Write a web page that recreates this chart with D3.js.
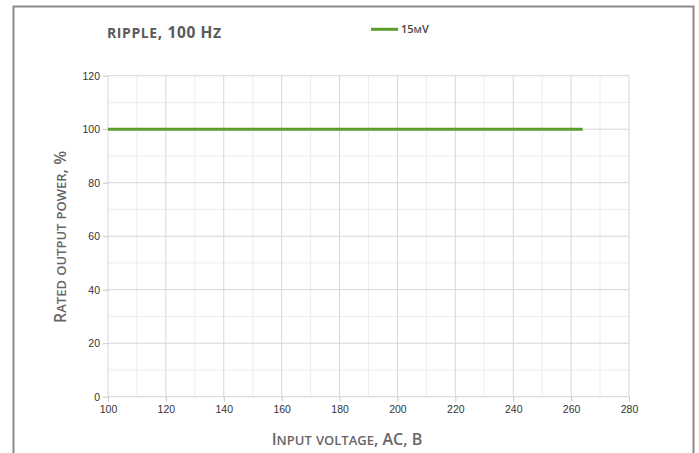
<!DOCTYPE html>
<html><head><meta charset="utf-8">
<script src="https://cdn.jsdelivr.net/npm/d3@7/dist/d3.min.js"></script>
<style>
html,body{margin:0;padding:0;background:#fff;}
svg{display:block;}
</style></head>
<body>
<script>
const seriesName = "15mV";
const xValues = [100, 264];
const yValues = [100, 100];
const xTicks = [100,120,140,160,180,200,220,240,260,280];
const yTicks = [0,20,40,60,80,100,120];
const xMinor = [110,130,150,170,190,210,230,250,270];
const yMinor = [10,30,50,70,90,110];

const W = 699, H = 453;
const svg = d3.select("body").append("svg").attr("width", W).attr("height", H);

// manual small caps: lowercase letters rendered as smaller uppercase
function smallCaps(sel, str, big, small){
  const runs = [];
  for (const ch of str){
    const low = ch !== ch.toUpperCase();
    if (runs.length && runs[runs.length-1].low === low) runs[runs.length-1].s += ch;
    else runs.push({low, s: ch});
  }
  runs.forEach(r=>{
    sel.append("tspan").attr("font-size", r.low ? small : big).text(r.low ? r.s.toUpperCase() : r.s);
  });
}

svg.append("rect").attr("x",13.5).attr("y",6.5).attr("width",680).attr("height",460)
  .attr("fill","#fff").attr("stroke","#8a8a8a").attr("stroke-width",2);

const x = d3.scaleLinear().domain([100,280]).range([108,629]);
const y = d3.scaleLinear().domain([0,120]).range([396.7,75.7]);

const g = svg.append("g");
g.selectAll(".vmin").data(xMinor).join("line")
  .attr("x1",d=>x(d)).attr("x2",d=>x(d)).attr("y1",y(0)).attr("y2",y(120))
  .attr("stroke","#ededed").attr("stroke-width",1);
g.selectAll(".hmin").data(yMinor).join("line")
  .attr("x1",x(100)).attr("x2",x(280)).attr("y1",d=>y(d)).attr("y2",d=>y(d))
  .attr("stroke","#ededed").attr("stroke-width",1);
g.selectAll(".vmaj").data(xTicks).join("line")
  .attr("x1",d=>x(d)).attr("x2",d=>x(d)).attr("y1",y(0)).attr("y2",y(120))
  .attr("stroke","#d6d6d6").attr("stroke-width",1);
g.selectAll(".hmaj").data(yTicks).join("line")
  .attr("x1",x(100)).attr("x2",x(280)).attr("y1",d=>y(d)).attr("y2",d=>y(d))
  .attr("stroke","#d6d6d6").attr("stroke-width",1);

const xAxis = d3.axisBottom(x).tickValues(xTicks).tickSize(5).tickPadding(4).tickFormat(d3.format("d"));
const yAxis = d3.axisLeft(y).tickValues(yTicks).tickSize(5).tickPadding(3).tickFormat(d3.format("d"));
const gx = svg.append("g").attr("transform",`translate(0,${y(0)})`).call(xAxis);
const gy = svg.append("g").attr("transform",`translate(${x(100)},0)`).call(yAxis);
[gx,gy].forEach(a=>{
  a.select(".domain").remove();
  a.selectAll(".tick line").attr("stroke","#c8c8c8");
  a.selectAll(".tick text").attr("fill","#333").attr("font-family","Liberation Sans, Arial, sans-serif").attr("font-size",10.5);
});

const line = d3.line().x(d=>x(d[0])).y(d=>y(d[1]));
svg.append("path").datum(xValues.map((v,i)=>[v,yValues[i]]))
  .attr("d",line).attr("fill","none").attr("stroke","#5c9e2c").attr("stroke-width",3);

// title
const t = svg.append("text").attr("x",107).attr("y",37.5)
  .attr("font-family","Open Sans, sans-serif").attr("font-weight",700).attr("fill","#5a5a5a").attr("letter-spacing",0.6);
smallCaps(t, "ripple, 100 Hz", 15.5, 14);

// legend
svg.append("line").attr("x1",371).attr("x2",398).attr("y1",29.3).attr("y2",29.3)
  .attr("stroke","#5c9e2c").attr("stroke-width",3);
const lt = svg.append("text").attr("x",401).attr("y",33)
  .attr("font-family","Open Sans, sans-serif").attr("font-weight",600).attr("fill","#444");
smallCaps(lt, seriesName, 11, 9);

// axis titles
const xt = svg.append("text").attr("x",347).attr("y",445).attr("text-anchor","middle")
  .attr("font-family","Open Sans, sans-serif").attr("font-weight",600).attr("fill","#666");
smallCaps(xt, "Input voltage, AC, B", 16, 13);
const yt = svg.append("text").attr("transform","translate(66,237) rotate(-90)").attr("text-anchor","middle")
  .attr("font-family","Open Sans, sans-serif").attr("font-weight",600).attr("fill","#666");
smallCaps(yt, "Rated output power, %", 16, 13);
</script>
</body></html>
